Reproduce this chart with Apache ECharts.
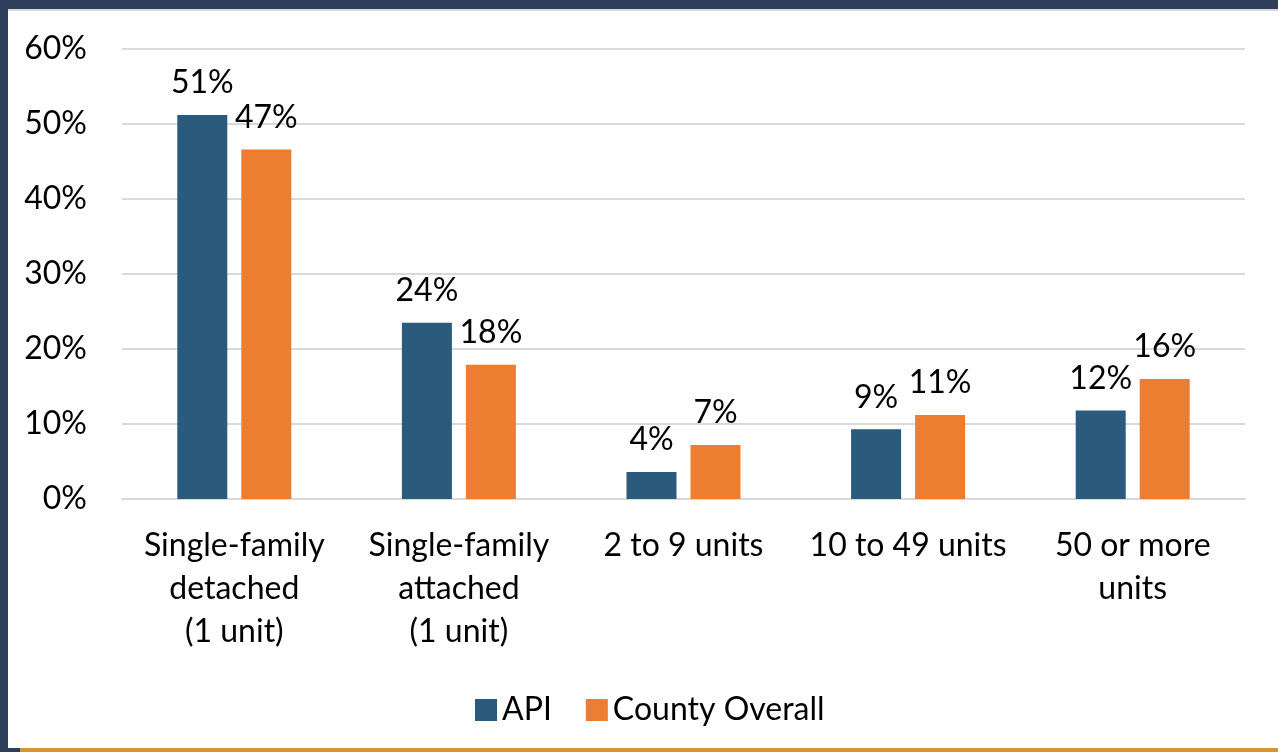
<!DOCTYPE html>
<html lang="en">
<head>
    <meta charset="utf-8">
    <title>Housing units</title>
    <script src="https://cdn.jsdelivr.net/npm/echarts@6/dist/echarts.min.js"></script>
    <style>
        html, body { margin: 0; padding: 0; background: #fff; }
    </style>
</head>
<body>
<div id="main" style="width:1278px;height:752px"></div>
<script type="text/javascript">
    // categories and values (percent)
    var categories = [
        'Single-family\ndetached\n(1 unit)',
        'Single-family\nattached\n(1 unit)',
        '2 to 9 units',
        '10 to 49 units',
        '50 or more\nunits'
    ];
    var apiValues = [51.2, 23.5, 3.6, 9.3, 11.8];
    var countyValues = [46.6, 17.9, 7.2, 11.2, 16.0];
    var seriesNames = ['API', 'County Overall'];
    var yTicks = [0, 10, 20, 30, 40, 50, 60];

    var font = 'Lato, "Open Sans", sans-serif';
    var myChart = echarts.init(document.getElementById('main'));

    var labelStyle = {
        show: true,
        position: 'top',
        distance: 16,
        fontFamily: font,
        fontSize: 32,
        color: '#000',
        formatter: function (p) {
            return Math.round(p.value) + '%';
        }
    };

    option = {
        backgroundColor: '#fff',
        animation: false,
        textStyle: { fontFamily: font },
        // frame around the slide
        graphic: [
            { type: 'rect', shape: { x: 0, y: 0, width: 1278, height: 9 }, style: { fill: '#2e3f5c' } },
            { type: 'rect', shape: { x: 8, y: 9, width: 1270, height: 2 }, style: { fill: '#d9d9d9' } },
            { type: 'rect', shape: { x: 0, y: 0, width: 8, height: 752 }, style: { fill: '#2e3f5c' } },
            { type: 'rect', shape: { x: 0, y: 748, width: 20, height: 4 }, style: { fill: '#2e3f5c' } },
            { type: 'rect', shape: { x: 20, y: 748, width: 1258, height: 4 }, style: { fill: '#d49535' } }
        ],
        grid: {
            left: 122,
            right: 33,
            top: 49,
            bottom: 253
        },
        legend: {
            left: 470,
            top: 689,
            itemWidth: 22,
            itemHeight: 22,
            itemGap: 34,
            icon: 'rect',
            textStyle: { fontFamily: font, fontSize: 32, color: '#000' },
            data: seriesNames
        },
        xAxis: {
            type: 'category',
            data: categories,
            axisLine: { lineStyle: { color: '#d9d9d9', width: 2 } },
            axisTick: { show: false },
            axisLabel: {
                margin: 25,
                interval: 0,
                fontFamily: font,
                fontSize: 32,
                lineHeight: 43,
                color: '#000'
            }
        },
        yAxis: {
            type: 'value',
            min: yTicks[0],
            max: yTicks[yTicks.length - 1],
            interval: 10,
            axisLine: { show: false },
            axisTick: { show: false },
            splitLine: { lineStyle: { color: '#d9d9d9', width: 2 } },
            axisLabel: {
                margin: 35,
                fontFamily: font,
                fontSize: 32,
                color: '#000',
                formatter: '{value}%'
            }
        },
        series: [{
            name: seriesNames[0],
            type: 'bar',
            data: apiValues,
            barWidth: 50,
            barGap: '28%',
            itemStyle: { color: '#2a5a7c' },
            label: labelStyle
        }, {
            name: seriesNames[1],
            type: 'bar',
            data: countyValues,
            barWidth: 50,
            barGap: '28%',
            itemStyle: { color: '#ed7d31' },
            label: labelStyle
        }]
    };
    myChart.setOption(option);
</script>
</body>
</html>
